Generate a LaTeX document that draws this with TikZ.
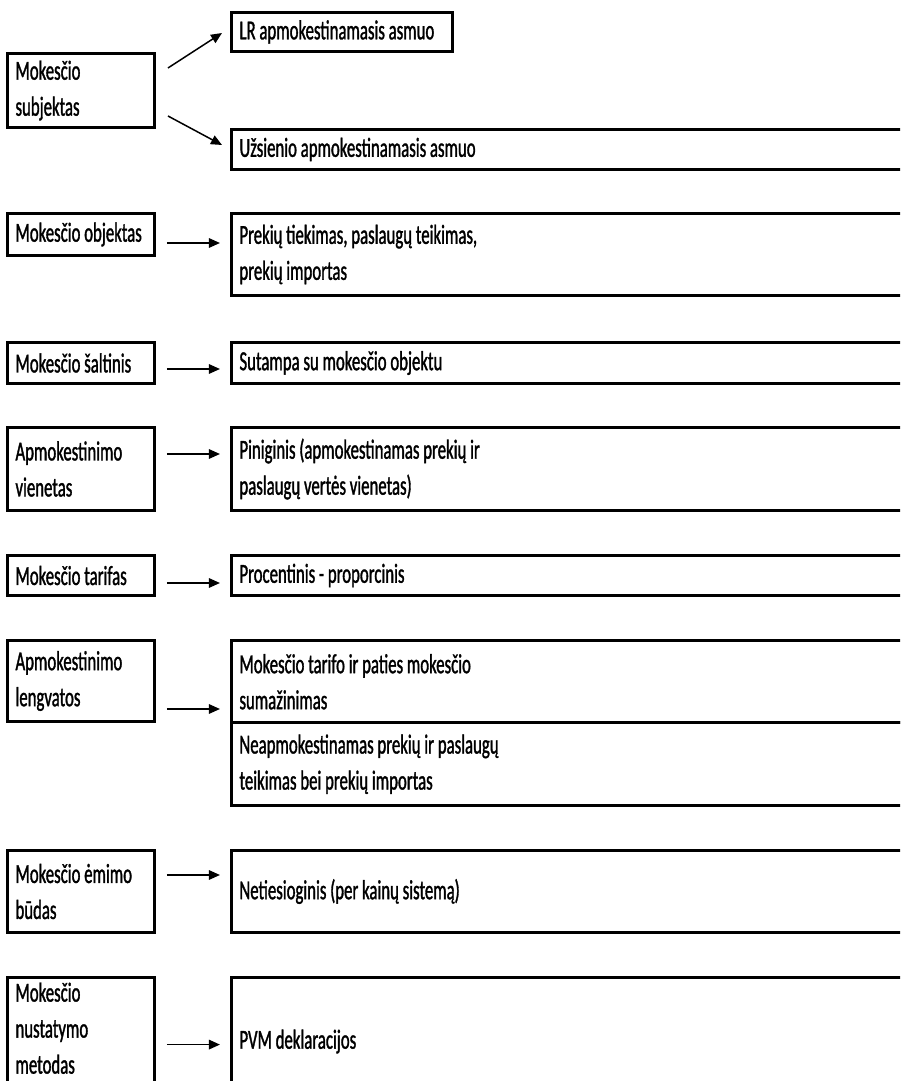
\documentclass[tikz,border=0pt]{standalone}
\usepackage{fontspec}
\setmainfont{Carlito}[FakeStretch=0.61, FakeBold=1.2]
\usepackage{tikz}
\usetikzlibrary{arrows.meta}
\usetikzlibrary{positioning}
\hyphenpenalty=10000
\exhyphenpenalty=10000
\tikzset{
    termbox/.style={
      rectangle,
      draw=black, line width=1.7pt,
      outer sep=0pt,
      inner xsep=0.16cm,
      inner ysep=0.1cm,
      text width=2.62cm,
      align=left,
      execute at begin node={\spaceskip=2.15pt plus 1pt minus 0.5pt\xspaceskip=\spaceskip},
      anchor=north west,
    },
    infobox/.style={
      termbox,
      text width=13.68cm,
    },
    link/.style={
      -{Triangle[length=0.22cm,width=0.19cm]},
      line width=0.85pt,
    },
    flow/.style={
      link,
      shorten <=0.25cm,
      shorten >=0.23cm,
    },
}

\begin{document}
\begin{tikzpicture}[x=0.02cm,y=-0.02cm,
    font=\fontsize{15.65pt}{20.5pt}\selectfont]

    \useasboundingbox[fill=white] (0,0) rectangle (900,1081);
    \clip (0,0) rectangle (900,1081);

    \node[termbox, minimum height=1.48cm] (SUBJ) at (7.5,53.5)
    {Mokesčio\\ subjektas};

    \node[termbox, text width=4.1cm, minimum height=0.78cm] (LR) at (231.5,12.5)
    {LR apmokestinamasis asmuo};

    \node[infobox, minimum height=0.8cm] (UZS) at (231.5,129.5)
    {Užsienio apmokestinamasis asmuo};

    \node[termbox, minimum height=0.84cm] (OBJ) at (7.5,213.5)
    {Mokesčio objektas};

    \node[infobox, right=1.54cm of OBJ.north east, anchor=north west,
    minimum height=1.64cm] (PREK)
    {Prekių tiekimas, paslaugų teikimas,\\ prekių importas};

    \node[termbox, minimum height=0.82cm] (SALT) at (7.5,342.5)
    {Mokesčio šaltinis};

    \node[infobox, right=1.54cm of SALT.north east, anchor=north west,
    minimum height=0.82cm] (SUT)
    {Sutampa su mokesčio objektu};

    \node[termbox, minimum height=1.66cm] (VIEN) at (7.5,427.5)
    {Apmokestinimo\\ vienetas};

    \node[infobox, right=1.54cm of VIEN.north east, anchor=north west,
    minimum height=1.66cm] (PIN)
    {Piniginis (apmokestinamas prekių ir\\ paslaugų vertės vienetas)};

    \node[termbox, minimum height=0.8cm] (TARIF) at (7.5,555.5)
    {Mokesčio tarifas};

    \node[infobox, right=1.54cm of TARIF.north east, anchor=north west,
    minimum height=0.8cm] (PROC)
    {Procentinis - proporcinis};

    \node[termbox, minimum height=1.62cm] (LENGV) at (7.5,640.5)
    {Apmokestinimo\\ lengvatos};

    \node[infobox, right=1.54cm of LENGV.north east, anchor=north west,
    minimum height=1.65cm] (LG1)
    {Mokesčio tarifo ir paties mokesčio\\ sumažinimas};

    \node[infobox, below=0pt of LG1, minimum height=1.65cm] (LG2)
    {Neapmokestinamas prekių ir paslaugų\\ teikimas bei prekių importas};

    \node[termbox, minimum height=1.64cm] (BUDAS) at (7.5,850.5)
    {Mokesčio ėmimo\\ būdas};

    \node[infobox, right=1.54cm of BUDAS.north east, anchor=north west,
    minimum height=1.64cm] (NET)
    {Netiesioginis (per kainų sistemą)};

    \node[termbox, minimum height=2.56cm] (METOD) at (7.5,977.5)
    {Mokesčio\\ nustatymo\\ metodas\\ \mbox{}};

    \node[infobox, right=1.54cm of METOD.north east, anchor=north west,
    minimum height=2.56cm] (PVM)
    {PVM deklaracijos};

    \path
    ([shift={(13.5,-22.5)}]SUBJ.east) edge[link] ([shift={(-9.5,1)}]LR.west)
    ([shift={(13.5,25.5)}]SUBJ.east) edge[link] ([shift={(-9.5,-4.5)}]UZS.west)

    ([shift={(0,8.5)}]OBJ.east) edge[flow] ([shift={(0,8.5)}]OBJ.east -| PREK.west)
    ([shift={(0,6)}]SALT.east) edge[flow] ([shift={(0,6)}]SALT.east -| SUT.west)
    ([shift={(0,-15)}]VIEN.east) edge[flow] ([shift={(0,-15)}]VIEN.east -| PIN.west)
    ([shift={(0,7.5)}]TARIF.east) edge[flow] ([shift={(0,7.5)}]TARIF.east -| PROC.west)
    ([shift={(0,28)}]LENGV.east) edge[flow] ([shift={(0,28)}]LENGV.east -| LG1.west)
    ([shift={(0,-16.5)}]BUDAS.east) edge[flow] ([shift={(0,-16.5)}]BUDAS.east -| NET.west)
    ([shift={(0,-1.5)}]METOD.east) edge[flow] ([shift={(0,-1.5)}]METOD.east -| PVM.west);

\end{tikzpicture}
\end{document}
